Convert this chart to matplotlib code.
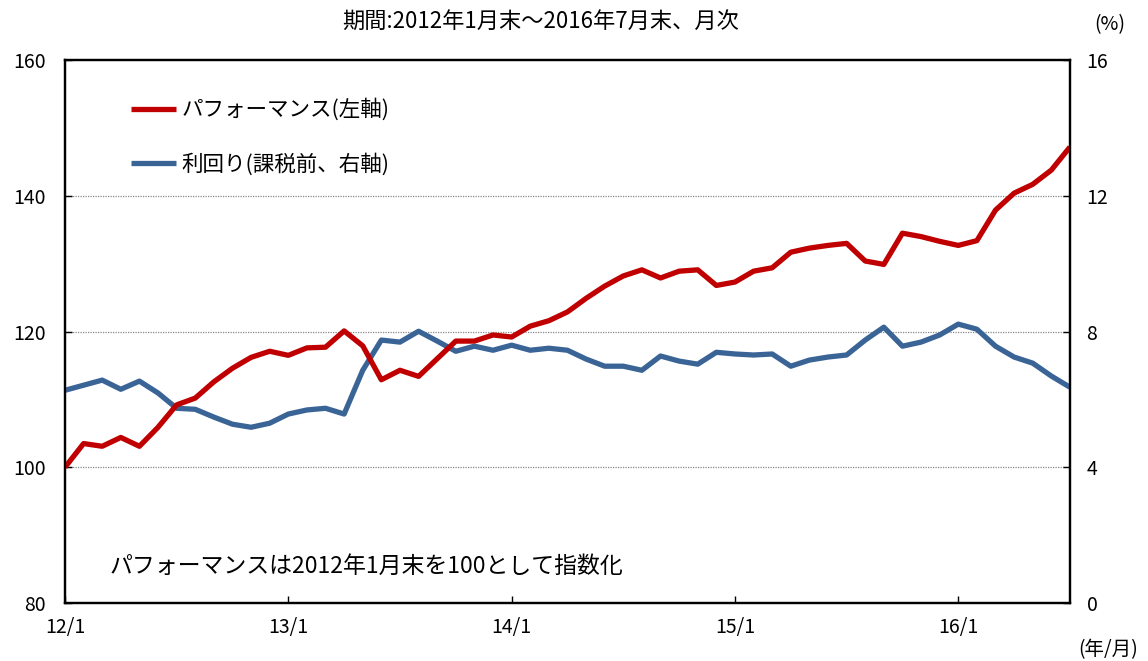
import numpy as np
import matplotlib.pyplot as plt

plt.rcParams['font.family'] = ['Noto Sans CJK JP', 'DejaVu Sans']

# パフォーマンス (左軸), 2012/1 - 2016/7 月次
perf = [100.0, 103.5, 103.1, 104.4, 103.1, 105.9, 109.2, 110.2, 112.6, 114.6,
        116.2, 117.1, 116.5, 117.6, 117.7, 120.1, 117.9, 112.9, 114.3, 113.4,
        116.0, 118.6, 118.6, 119.5, 119.2, 120.8, 121.6, 122.9, 124.9, 126.7,
        128.2, 129.1, 127.9, 128.9, 129.1, 126.8, 127.3, 128.9, 129.4, 131.7,
        132.3, 132.7, 133.0, 130.4, 129.9, 134.5, 134.0, 133.3, 132.7, 133.4,
        137.9, 140.4, 141.7, 143.8, 147.2]
# 利回り (課税前, 右軸, %)
yld = [6.27, 6.42, 6.57, 6.30, 6.54, 6.19, 5.74, 5.71, 5.48, 5.27,
       5.18, 5.30, 5.57, 5.69, 5.74, 5.57, 6.86, 7.75, 7.69, 8.01,
       7.72, 7.42, 7.57, 7.45, 7.60, 7.45, 7.51, 7.45, 7.19, 6.98,
       6.98, 6.86, 7.28, 7.13, 7.04, 7.39, 7.34, 7.31, 7.34, 6.98,
       7.16, 7.25, 7.31, 7.75, 8.13, 7.57, 7.69, 7.90, 8.22, 8.07,
       7.57, 7.25, 7.07, 6.69, 6.36]
xlabels = ['12/1', '13/1', '14/1', '15/1', '16/1']

red = '#C00000'
blue = '#3A6496'

x = np.arange(len(perf))

fig = plt.figure(figsize=(11.48, 6.61), dpi=100)
ax = fig.add_axes([0.0566, 0.0877, 0.8754, 0.8213])
ax2 = ax.twinx()

ax.set_ylim(80, 160)
ax.set_yticks(np.arange(80, 161, 20))
ax2.set_ylim(0, 16)
ax2.set_yticks(np.arange(0, 17, 4))
ax.set_xlim(0, len(perf) - 1)
ax.set_xticks(np.arange(0, len(perf), 12))
ax.set_xticklabels(xlabels)

for v in [100, 120, 140]:
    ax.axhline(v, color='#888888', lw=0.9, ls=(0, (1, 1)), zorder=0)

l2, = ax2.plot(x, yld, color=blue, lw=3.8, solid_capstyle='butt')
l1, = ax2.plot(x, np.array(perf) / 5 - 16, color=red, lw=3.8, solid_capstyle='butt')

for a in (ax, ax2):
    for s in a.spines.values():
        s.set_linewidth(1.6)
    a.tick_params(direction='in', length=5, width=1, labelsize=14)
ax.tick_params(axis='y', pad=14)
ax2.tick_params(axis='y', pad=12)
ax.tick_params(axis='x', pad=10)

ax.legend([l1, l2], ['パフォーマンス(左軸)', '利回り(課税前、右軸)'],
          loc='upper left', bbox_to_anchor=(0.046, 0.965), frameon=False,
          fontsize=15.5, handlelength=2.1, handletextpad=0.25, labelspacing=1.5)

ax.text(0.044, 0.068, 'パフォーマンスは2012年1月末を100として指数化',
        transform=ax.transAxes, fontsize=16.5, va='center', ha='left')

fig.text(0.471, 0.968, '期間:2012年1月末～2016年7月末、月次', fontsize=16,
         ha='center', va='center')
fig.text(0.967, 0.963, '(%)', fontsize=14, ha='center', va='center')
fig.text(0.965, 0.017, '(年/月)', fontsize=14, ha='center', va='center')

fig.savefig('out.png')
